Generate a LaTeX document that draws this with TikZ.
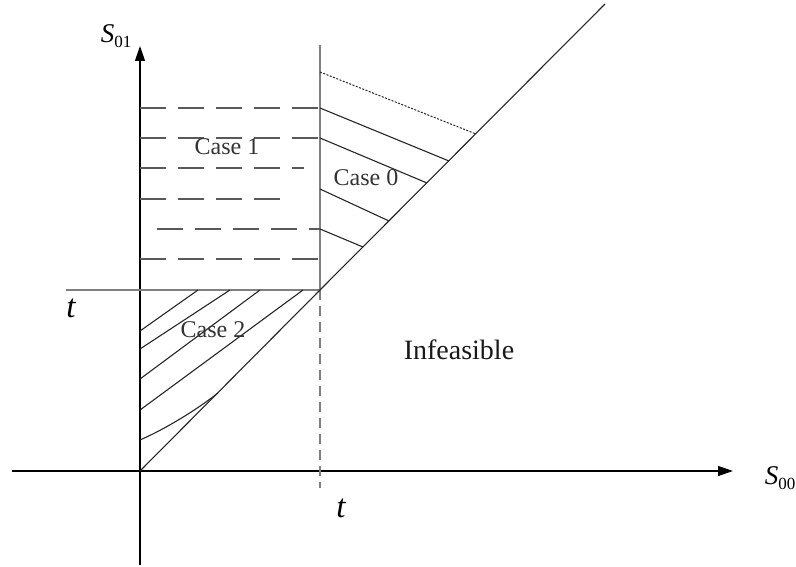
\documentclass[tikz,border=0pt]{standalone}
\usepackage{fontspec}
\setmainfont{Liberation Serif}
\usetikzlibrary{arrows.meta}
\begin{document}
\begin{tikzpicture}[x=1pt,y=-1pt,
  axis/.style={line width=1.3pt, draw=black, -{Triangle[length=15pt,width=10pt]}},
  grayline/.style={line width=2.6pt, draw=black!50},
  vdash/.style={line width=2.4pt, draw=black!50, dash pattern=on 10pt off 6pt},
  dashline/.style={line width=2pt, draw=black!65, dash pattern=on 25.5pt off 12.5pt},
  hatch/.style={line width=1.1pt, draw=black!85},
  dothatch/.style={line width=1pt, draw=black!85, dash pattern=on 2pt off 1.5pt},
  diag/.style={line width=1.1pt, draw=black!85},
  lbl/.style={font=\fontsize{24}{28}\selectfont, text=black!80, inner sep=0pt},
  bigl/.style={font=\fontsize{28}{32}\selectfont, text=black!90, inner sep=0pt},
  tl/.style={font=\fontsize{33}{36}\selectfont\itshape, inner sep=0pt},
  sl/.style={font=\fontsize{27}{30}\selectfont, inner sep=0pt},
]
\useasboundingbox (0,0) rectangle (796,567);
% key points
\coordinate (O) at (140,471);
\coordinate (T) at (320,290);
\coordinate (ybot) at (140,565);
\coordinate (ytop) at (140,46);
\coordinate (xl) at (12,471);
\coordinate (xr) at (733,471);
\coordinate (vtop) at (320,45);
\coordinate (vbot) at (320,488);
\coordinate (tl0) at (66,290);
\coordinate (dtop) at (605,4);

% axes
\draw[axis] (ybot) -- (ytop);
\draw[axis] (xl) -- (xr);

% t lines
\draw[grayline] (tl0) -- (T);
\draw[grayline] (vtop) -- (T);
\draw[vdash] (T) -- (vbot);

% diagonal
\draw[diag] (O) -- (T) -- (dtop);

% Case 0 hatching
\coordinate (a0) at (320,72);  \coordinate (b0) at (476,134);
\coordinate (a1) at (320,108); \coordinate (b1) at (449,161);
\coordinate (a2) at (320,138); \coordinate (b2) at (427,183);
\coordinate (a3) at (320,189); \coordinate (b3) at (389,221);
\coordinate (a4) at (320,229); \coordinate (b4) at (363,247);
\draw[dothatch] (a0) -- (b0);
\draw[hatch] (a1) -- (b1);
\draw[hatch] (a2) -- (b2);
\draw[hatch] (a3) -- (b3);
\draw[hatch] (a4) -- (b4);

% Case 1 dashed lines
\coordinate (c1a) at (140,108); \coordinate (c1b) at (320,108);
\coordinate (c2a) at (140,138); \coordinate (c2b) at (320,138);
\coordinate (c3a) at (140,168); \coordinate (c3b) at (304,168);
\coordinate (c4a) at (140,199); \coordinate (c4b) at (281,199);
\coordinate (c5a) at (157,229); \coordinate (c5b) at (320,229);
\coordinate (c6a) at (140,259); \coordinate (c6b) at (320,259);
\draw[dashline] (c1a) -- (c1b);
\draw[dashline] (c2a) -- (c2b);
\draw[dashline] (c3a) -- (c3b);
\draw[dashline] (c4a) -- (c4b);
\draw[dashline] (c5a) -- (c5b);
\draw[dashline] (c6a) -- (c6b);

% Case 2 hatching
\coordinate (d1a) at (140,331); \coordinate (d1b) at (198,290);
\coordinate (d2a) at (140,349); \coordinate (d2b) at (230,290);
\coordinate (d3a) at (140,379); \coordinate (d3b) at (260,290);
\coordinate (d4a) at (140,410); \coordinate (d4b) at (303,290);
\coordinate (d5a) at (140,440); \coordinate (d5b) at (218,393);
\draw[hatch] (d1a) -- (d1b);
\draw[hatch] (d2a) -- (d2b);
\draw[hatch] (d3a) -- (d3b);
\draw[hatch] (d4a) -- (d4b);
\draw[hatch] (d5a) .. controls (165,429) and (195,411) .. (d5b);

% labels
\node[lbl] (case1) at (227,147) {Case 1};
\node[lbl] (case0) at (366,178) {Case 0};
\node[lbl] (case2) at (213,330) {Case 2};
\node[bigl] (inf) at (459,350) {Infeasible};
\node[tl] (tleft) at (71,308) {t};
\node[tl] (tbot) at (341,508) {t};
\node[sl] (s01) at (116,36) {\textit{S}\raisebox{-0.35ex}{\fontsize{17}{18}\selectfont 01}};
\node[sl] (s00) at (780,478) {\textit{S}\raisebox{-0.35ex}{\fontsize{17}{18}\selectfont 00}};
\end{tikzpicture}
\end{document}
